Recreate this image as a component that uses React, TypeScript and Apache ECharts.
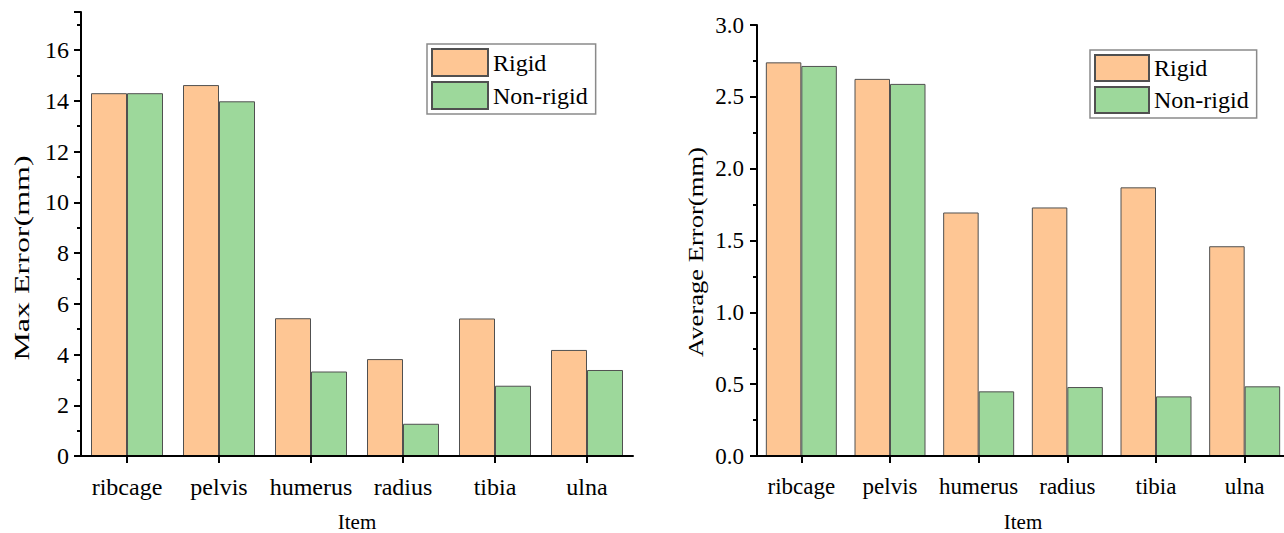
import React, { useEffect, useRef } from "react";
import * as echarts from "echarts";

const categories = ["ribcage", "pelvis", "humerus", "radius", "tibia", "ulna"];
const maxRigid = [14.3, 14.62, 5.43, 3.82, 5.42, 4.18];
const maxNonRigid = [14.3, 13.98, 3.33, 1.27, 2.77, 3.39];
const avgRigid = [2.74, 2.625, 1.695, 1.73, 1.87, 1.46];
const avgNonRigid = [2.715, 2.59, 0.45, 0.48, 0.415, 0.485];
const seriesNames = ["Rigid", "Non-rigid"];

const FONT = "'Liberation Serif', 'Times New Roman', serif";
const ORANGE = "#FEC694";
const GREEN = "#9DD89B";
const BORDER = "#505050";

export default function App() {
  const ref = useRef<HTMLDivElement>(null);
  useEffect(() => {
    if (!ref.current) return;
    const chart = echarts.init(ref.current, null, { renderer: "svg" });
    const ls = () => ({ color: "#000", width: 2 });
    const catMain = (grid: number, fs: number) => ({
      type: "category",
      gridIndex: grid,
      data: categories,
      axisLine: { show: true, onZero: false, lineStyle: ls() },
      axisTick: { show: true, interval: 0, alignWithLabel: true, length: 7, lineStyle: ls() },
      axisLabel: { show: true, interval: 0, color: "#000", fontFamily: FONT, fontSize: fs, margin: 19 },
      name: "Item",
      nameLocation: "middle",
      nameGap: 55,
      nameTextStyle: { color: "#000", fontFamily: FONT, fontSize: 21 },
      z: 10,
    });
    const legend = (left: number, top: number, w: number, h: number) => ({
      left,
      top,
      orient: "vertical",
      data: seriesNames,
      itemWidth: w,
      itemHeight: h,
      itemGap: 4,
      padding: [4, 8, 4, 4],
      borderColor: "#8a8a8a",
      borderWidth: 1.5,
      icon: "rect",
      textStyle: { color: "#000", fontFamily: FONT, fontSize: 24 },
    });
    const option: any = {
      animation: false,
      grid: [
        { left: 81, top: 12, width: 552, height: 444, outerBoundsMode: "none" },
        { left: 757, top: 25, width: 532, height: 431, outerBoundsMode: "none" },
      ],
      legend: [legend(427, 44, 56, 27), legend(1090, 50, 54, 26)],
      xAxis: [catMain(0, 24), catMain(1, 23)],
      yAxis: [
        {
          type: "value",
          gridIndex: 0,
          min: 0,
          max: 17.5,
          interval: 2,
          axisLine: { show: true, lineStyle: ls() },
          axisTick: { show: true, length: 7, lineStyle: ls() },
          minorTick: { show: true, splitNumber: 2, length: 4, lineStyle: ls() },
          axisLabel: {
            color: "#000", fontFamily: FONT, fontSize: 24, margin: 12, showMaxLabel: false,
            formatter: (v: number) => (v % 2 === 0 ? String(v) : ""),
          },
          splitLine: { show: false },
        },
        {
          type: "value",
          gridIndex: 1,
          min: 0,
          max: 3,
          interval: 0.5,
          axisLine: { show: true, lineStyle: ls() },
          axisTick: { show: true, length: 7, lineStyle: ls() },
          minorTick: { show: true, splitNumber: 2, length: 4, lineStyle: ls() },
          axisLabel: { color: "#000", fontFamily: FONT, fontSize: 23, margin: 13, formatter: (v: number) => v.toFixed(1) },
          splitLine: { show: false },
        },
      ],
      graphic: [
        {
          type: "text",
          x: 22,
          y: 258,
          rotation: Math.PI / 2,
          scaleX: 1.6,
          style: { text: "Max Error(mm)", fill: "#000", font: `20px ${FONT}`, align: "center", verticalAlign: "middle" },
        },
        {
          type: "text",
          x: 696,
          y: 252,
          rotation: Math.PI / 2,
          scaleX: 1.33,
          style: { text: "Average Error(mm)", fill: "#000", font: `20px ${FONT}`, align: "center", verticalAlign: "middle" },
        },
      ],
      series: [
        {
          name: seriesNames[0], type: "bar", xAxisIndex: 0, yAxisIndex: 0, data: maxRigid,
          barWidth: 36, barGap: "0%",
          itemStyle: { color: ORANGE, borderColor: BORDER, borderWidth: 1 },
        },
        {
          name: seriesNames[1], type: "bar", xAxisIndex: 0, yAxisIndex: 0, data: maxNonRigid,
          barWidth: 36, barGap: "0%",
          itemStyle: { color: GREEN, borderColor: BORDER, borderWidth: 1 },
        },
        {
          name: seriesNames[0], type: "bar", xAxisIndex: 1, yAxisIndex: 1, data: avgRigid,
          barWidth: 35.5, barGap: "0%",
          itemStyle: { color: ORANGE, borderColor: BORDER, borderWidth: 1 },
        },
        {
          name: seriesNames[1], type: "bar", xAxisIndex: 1, yAxisIndex: 1, data: avgNonRigid,
          barWidth: 35.5, barGap: "0%",
          itemStyle: { color: GREEN, borderColor: BORDER, borderWidth: 1 },
        },
      ],
    };
    chart.setOption(option);
    return () => chart.dispose();
  }, []);
  return (
    <div
      ref={ref}
      style={{ position: "absolute", left: 0, top: 0, width: 1284, height: 533, background: "#fff" }}
    />
  );
}
